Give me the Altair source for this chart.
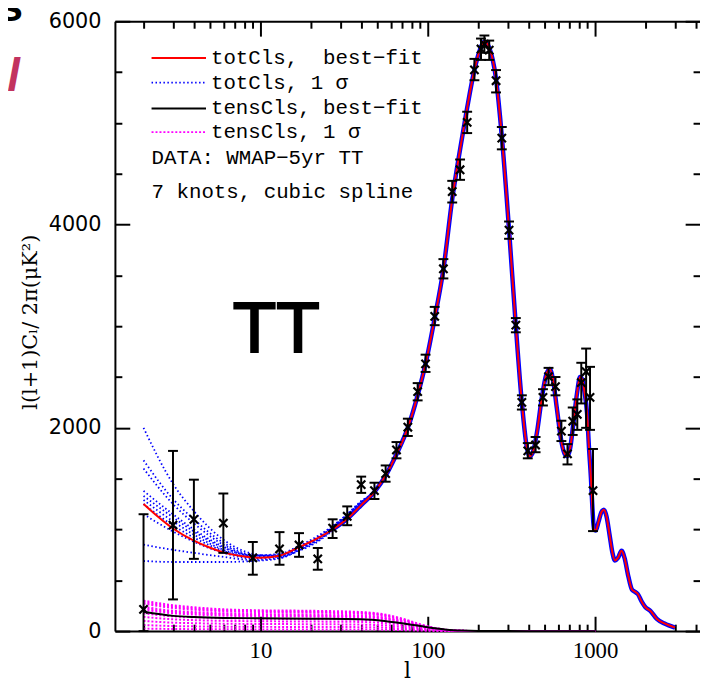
import altair as alt
import pandas as pd

# ---- best-fit totCls (l, D_l in muK^2) ----
fit_l = [2, 3, 4, 5, 6, 8, 10, 13, 17, 22, 27, 33, 40, 48, 56, 65, 76, 87, 97, 110,
         124, 140, 156, 172, 190, 205, 218, 233, 256, 277, 306, 336, 365, 390, 407, 425, 450, 480, 510, 535,
         560, 590, 630, 660, 684, 710, 740, 780, 813, 840, 865, 895, 920, 945, 965, 985, 1010, 1050, 1090, 1130,
         1170, 1220, 1270, 1315, 1370, 1440, 1500, 1580, 1660, 1720, 1800, 1900, 2000, 2140, 2340, 2600, 3000]
fit_D = [1250, 1010, 890, 820, 775, 735, 722, 742, 825, 915, 1000, 1105, 1240, 1370, 1530, 1740, 2000, 2320, 2630, 3080,
         3560, 4250, 4740, 5150, 5520, 5720, 5800, 5740, 5430, 4870, 3950, 3000, 2250, 1820, 1720, 1760, 1960, 2290, 2520, 2580,
         2480, 2200, 1860, 1740, 1720, 1800, 2030, 2340, 2500, 2470, 2350, 2150, 1800, 1500, 1200, 1000, 990, 1080, 1170, 1195,
         1130, 950, 770, 695, 720, 790, 720, 540, 410, 390, 365, 290, 235, 200, 120, 75, 35]

# ---- totCls 1-sigma curves at low l (they follow the best fit beyond l = 40) ----
sig_l = [2, 3, 4, 6, 9, 13, 17, 22, 27, 33, 40]
sig_D = [
    [2000, 1450, 1180, 900, 760, 730, 790, 880, 990, 1110, 1250],
    [1680, 1300, 1100, 870, 750, 740, 810, 900, 1010, 1130, 1260],
    [1600, 1250, 1060, 850, 745, 745, 820, 910, 1020, 1140, 1270],
    [1380, 1150, 1000, 830, 740, 750, 830, 925, 1030, 1150, 1280],
    [1330, 1120, 980, 820, 745, 760, 840, 935, 1035, 1150, 1275],
    [1290, 1080, 950, 800, 730, 745, 825, 920, 1025, 1140, 1265],
    [1250, 1040, 920, 790, 725, 740, 820, 915, 1020, 1135, 1260],
    [1150, 980, 880, 770, 715, 735, 815, 910, 1015, 1130, 1255],
    [850, 800, 770, 730, 700, 720, 800, 895, 1000, 1120, 1250],
    [690, 680, 680, 680, 690, 715, 795, 890, 995, 1115, 1245],
]

# ---- tensCls ----
tens_l = [2, 3, 4, 6, 10, 20, 40, 55, 70, 90, 110, 130, 160, 200, 400, 1000]
tens_fit = [190, 150, 138, 130, 127, 122, 116, 100, 78, 50, 28, 14, 5, 1, 0, 0]
tens_sig = [
    [300, 255, 235, 215, 205, 200, 188, 165, 125, 68, 32, 13, 4, 1, 0, 0],
    [285, 242, 222, 205, 196, 191, 180, 158, 118, 64, 30, 12, 4, 1, 0, 0],
    [270, 228, 210, 195, 188, 182, 172, 150, 112, 60, 28, 11, 3, 1, 0, 0],
    [240, 200, 188, 175, 168, 163, 155, 135, 100, 54, 25, 10, 3, 1, 0, 0],
    [225, 188, 176, 164, 157, 152, 145, 126, 94, 50, 23, 9, 3, 1, 0, 0],
    [210, 175, 163, 152, 146, 142, 135, 118, 88, 47, 22, 9, 3, 1, 0, 0],
    [175, 145, 136, 127, 122, 118, 112, 98, 73, 39, 18, 7, 2, 0, 0, 0],
    [140, 116, 108, 101, 97, 94, 90, 78, 58, 31, 14, 6, 2, 0, 0, 0],
    [100, 83, 78, 73, 70, 68, 64, 56, 42, 22, 10, 4, 1, 0, 0, 0],
    [60, 50, 47, 44, 42, 41, 39, 34, 25, 13, 6, 3, 1, 0, 0, 0],
    [25, 21, 19, 18, 17, 17, 16, 14, 10, 6, 3, 1, 0, 0, 0, 0],
]

# ---- WMAP-5yr TT binned data ----
data_l = [2, 3, 4, 6, 9, 13, 17, 22, 27, 33, 40, 48, 56, 65, 76, 87, 97, 110, 124, 140, 156, 172, 190, 208, 218,
          233, 256, 277, 306, 336, 365, 396, 441, 488, 527, 580, 629, 684, 735, 783, 827, 884, 933, 972]
data_D = [214, 1042, 1100, 1062, 721, 808, 847, 711, 1013, 1130, 1441, 1383, 1549, 1782, 2006, 2357, 2630, 3097, 3565,
          4325, 4539, 5006, 5522, 5727, 5776, 5717, 5415, 4850, 3945, 3010, 2250, 1773, 1831, 2299, 2503, 2406, 1967,
          1743, 2065, 2133, 2445, 2552, 2299, 1383]
data_lo = [0, 312, 711, 770, 555, 653, 731, 604, 916, 1042, 1360, 1300, 1470, 1700, 1920, 2270, 2550, 3010, 3470,
           4217, 4440, 4900, 5420, 5620, 5690, 5620, 5300, 4740, 3860, 2940, 2180, 1700, 1760, 2220, 2420, 2320, 1870,
           1640, 1930, 1980, 2240, 2000, 1980, 984]
data_hi = [1150, 1773, 1490, 1354, 877, 974, 964, 818, 1100, 1227, 1520, 1460, 1630, 1860, 2090, 2440, 2720, 3190, 3660,
           4430, 4640, 5110, 5630, 5830, 5860, 5810, 5520, 4960, 4030, 3080, 2320, 1850, 1910, 2380, 2590, 2500, 2070,
           1840, 2200, 2280, 2640, 2780, 2600, 1792]

# ---- axis ticks ----
x_major = [10, 100, 1000]
x_minor = [2, 3, 4, 5, 6, 7, 8, 9, 20, 30, 40, 50, 60, 70, 80, 90,
           200, 300, 400, 500, 600, 700, 800, 900, 2000, 3000, 4000]
y_major = [0, 2000, 4000, 6000]
y_minor = [500, 1000, 1500, 2500, 3000, 3500, 4500, 5000, 5500]

legend_labels = ["totCls,\u00a0 best\u2212fit", "totCls, 1 \u03c3", "tensCls, best\u2212fit", "tensCls, 1 \u03c3"]
legend_colors = ["#ff0000", "#0000ff", "#000000", "#ff00ff"]
note_labels = ["DATA: WMAP\u22125yr TT", "7 knots, cubic spline"]

# ---------------------------------------------------------------
W, H = 591, 616
XS = alt.Scale(type="log", domain=[1.349, 4238], nice=False)
YS = alt.Scale(domain=[0, 6000], nice=False)


def tick_axis(orient, values, size, offset, domain=False):
    return alt.Axis(orient=orient, values=values, title=None, grid=False, labels=False,
                    domain=domain, domainColor="black", domainWidth=2,
                    ticks=True, tickSize=size, tickWidth=2, tickColor="black", offset=offset)


fit_df = pd.DataFrame({"l": fit_l, "D": fit_D})
halo_df = fit_df[fit_df["l"] >= 27]

rows = []
for k, curve in enumerate(sig_D):
    for l, v in zip(sig_l, curve):
        rows.append({"k": k, "l": l, "D": v})
    for l, v in zip(fit_l, fit_D):
        if l > 40:
            rows.append({"k": k, "l": l, "D": v})
sig_df = pd.DataFrame(rows)

trows = []
for k, curve in enumerate(tens_sig):
    for l, v in zip(tens_l, curve):
        trows.append({"k": k, "l": l, "D": v})
tsig_df = pd.DataFrame(trows)
tfit_df = pd.DataFrame({"l": tens_l, "D": tens_fit})
obs_df = pd.DataFrame({"l": data_l, "D": data_D, "lo": data_lo, "hi": data_hi})

# tensor 1-sigma (magenta dotted) -- carries top-edge major ticks + top frame, right-edge major ticks
l_tsig = alt.Chart(tsig_df).mark_line(color="#ff00ff", strokeDash=[2, 2], strokeWidth=2,
                                      interpolate="monotone").encode(
    x=alt.X("l:Q", scale=XS, axis=tick_axis("bottom", x_major, 15, -H, domain=True)),
    y=alt.Y("D:Q", scale=YS, axis=tick_axis("left", y_major, 15, -W)),
    detail="k:N")

# tensor best fit (black)
l_tfit = alt.Chart(tfit_df).mark_line(color="black", strokeWidth=2, interpolate="monotone").encode(
    x=alt.X("l:Q", scale=XS, axis=tick_axis("bottom", x_minor, 7, -H)),
    y=alt.Y("D:Q", scale=YS, axis=tick_axis("left", y_minor, 7, -W)))

# totCls 1-sigma (blue dotted)
l_sig = alt.Chart(sig_df).mark_line(color="#0000ff", strokeDash=[1.5, 2.5], strokeWidth=1.8,
                                    interpolate="monotone").encode(
    x=alt.X("l:Q", scale=XS, axis=tick_axis("top", x_minor, 7, -H)),
    y=alt.Y("D:Q", scale=YS, axis=tick_axis("right", y_minor, 7, -W)),
    detail="k:N")

l_halo = alt.Chart(halo_df).mark_line(color="#0000ff", strokeWidth=4.5, interpolate="monotone").encode(
    x=alt.X("l:Q", scale=XS, axis=tick_axis("top", x_major, 15, -H)),
    y=alt.Y("D:Q", scale=YS, axis=tick_axis("right", y_major, 15, -W)))

# best fit (red) -- carries labelled axes
l_fit = alt.Chart(fit_df).mark_line(color="#ff0000", strokeWidth=2, interpolate="monotone").encode(
    x=alt.X("l:Q", scale=XS,
            axis=alt.Axis(orient="bottom", values=x_major, format="d", title=None, grid=False,
                          ticks=False, tickSize=0, domain=True, domainColor="black", domainWidth=2,
                          labelFont="Liberation Serif", labelFontSize=23, labelColor="black",
                          labelPadding=9, labelFlush=False)),
    y=alt.Y("D:Q", scale=YS,
            axis=alt.Axis(orient="left", values=y_major, format="d", title=None, grid=False,
                          ticks=False, tickSize=0, domain=True, domainColor="black", domainWidth=2,
                          labelFont="DejaVu Sans", labelFontSize=21, labelColor="black",
                          labelPadding=14, labelFlush=False)))

l_err = alt.Chart(obs_df).mark_rule(color="black", strokeWidth=2, opacity=1).encode(
    x=alt.X("l:Q", scale=XS, axis=None), y=alt.Y("lo:Q", scale=YS, axis=None), y2="hi:Q")
l_caphi = alt.Chart(obs_df).mark_tick(color="black", orient="horizontal", size=10, thickness=2,
                                      opacity=1).encode(
    x=alt.X("l:Q", scale=XS, axis=None), y=alt.Y("hi:Q", scale=YS, axis=None))
l_caplo = alt.Chart(obs_df).mark_tick(color="black", orient="horizontal", size=10, thickness=2,
                                      opacity=1).encode(
    x=alt.X("l:Q", scale=XS, axis=None), y=alt.Y("lo:Q", scale=YS, axis=None))
l_pts = alt.Chart(obs_df).mark_point(shape="M-1,-1L1,1M-1,1L1,-1", size=70, filled=False,
                                     color="black", strokeWidth=2.2, opacity=1).encode(
    x=alt.X("l:Q", scale=XS, axis=None), y=alt.Y("D:Q", scale=YS, axis=None))

one = pd.DataFrame({"a": [0]})

LEG_FONT = "Liberation Mono"
legend_layers = []
row_y = [37, 62, 88, 112]
dashes = [[1, 0], [1.5, 2.5], [1, 0], [2, 2]]
for lab, col, yy, dsh in zip(legend_labels, legend_colors, row_y, dashes):
    legend_layers.append(alt.Chart(one).mark_rule(color=col, strokeWidth=2 if dsh == [1, 0] else 1.8,
                                                   strokeDash=dsh).encode(
        x=alt.value(37), x2=alt.value(92), y=alt.value(yy)))
    legend_layers.append(alt.Chart(one).mark_text(text=lab, font=LEG_FONT, fontSize=21, align="left",
                                                   baseline="middle", color="black").encode(
        x=alt.value(97), y=alt.value(yy)))
for lab, yy in zip(note_labels, [138, 172]):
    legend_layers.append(alt.Chart(one).mark_text(text=lab, font=LEG_FONT, fontSize=21, align="left",
                                                   baseline="middle", color="black").encode(
        x=alt.value(37), y=alt.value(yy)))

t_tt = alt.Chart(one).mark_text(text="TT", font="Liberation Sans", fontSize=72, stroke="black",
                                strokeWidth=2, align="center", baseline="alphabetic",
                                color="black").encode(
    x=alt.value(163), y=alt.value(334))
t_ytitle = alt.Chart(one).mark_text(text="l(l+1)C\u2097/ 2\u03c0(\u03bcK\u00b2)", font="DejaVu Serif",
                                    fontSize=21, angle=270, align="center", baseline="middle",
                                    color="black").encode(x=alt.value(-85), y=alt.value(304))
t_xtitle = alt.Chart(one).mark_text(text="l", font="DejaVu Serif", fontSize=22, align="center",
                                    baseline="alphabetic", color="black").encode(
    x=alt.value(W / 2), y=alt.value(H + 47))
t_s = alt.Chart(one).mark_text(text="s", font="Liberation Sans", fontWeight="bold", fontSize=44,
                               align="right", baseline="alphabetic", color="black").encode(
    x=alt.value(-93), y=alt.value(0))
t_al = alt.Chart(one).mark_text(text="al", font="Liberation Sans", fontWeight="bold", fontStyle="italic",
                                fontSize=46, align="right", baseline="alphabetic", color="#c2335f").encode(
    x=alt.value(-96), y=alt.value(70))

chart = alt.layer(
    l_tsig, l_tfit, l_sig, l_halo, l_fit, l_err, l_caphi, l_caplo, l_pts,
    *legend_layers, t_tt, t_ytitle, t_xtitle, t_s, t_al
).resolve_axis(x="independent", y="independent").properties(
    width=W, height=H,
    padding={"left": 108, "top": 10, "right": 0, "bottom": 50},
    autosize=alt.AutoSizeParams(type="none"),
).configure_view(stroke="transparent")

chart.save("out.html", embed_options={"renderer": "svg", "actions": False})
